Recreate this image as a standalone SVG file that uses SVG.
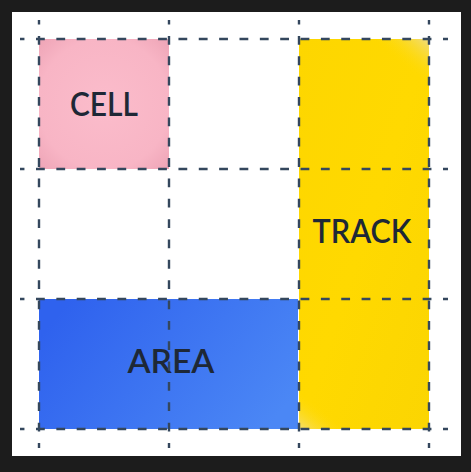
<svg xmlns="http://www.w3.org/2000/svg" width="471" height="472" viewBox="0 0 471 472">
  <style>
    .lbl { font-family: Lato, "Open Sans", "Liberation Sans", sans-serif; font-size: 32px; font-weight: 600; fill: #1e2836; text-anchor: middle; }
    .grid line { stroke: #34475d; stroke-width: 2.4; stroke-dasharray: 8.8 11.55; stroke-dashoffset: 4.35; fill: none; }
  </style>
  <defs>
    <radialGradient id="gPink" cx="0.5" cy="0.5" r="0.72">
      <stop offset="0" stop-color="#fbbccb"/>
      <stop offset="0.7" stop-color="#f8b5c5"/>
      <stop offset="1" stop-color="#eda3b5"/>
    </radialGradient>
    <linearGradient id="gYellow" x1="0" y1="0" x2="1" y2="1">
      <stop offset="0" stop-color="#fdd600"/>
      <stop offset="0.5" stop-color="#ffd900"/>
      <stop offset="1" stop-color="#fbd502"/>
    </linearGradient>
    <linearGradient id="gYellowHi" gradientUnits="userSpaceOnUse" x1="429" y1="39" x2="405" y2="68">
      <stop offset="0" stop-color="#eedc8c" stop-opacity="0.95"/>
      <stop offset="1" stop-color="#ffd900" stop-opacity="0"/>
    </linearGradient>
    <linearGradient id="gYellowLo" gradientUnits="userSpaceOnUse" x1="299" y1="429" x2="318" y2="405">
      <stop offset="0" stop-color="#f2e08e" stop-opacity="0.8"/>
      <stop offset="1" stop-color="#ffd900" stop-opacity="0"/>
    </linearGradient>
    <linearGradient id="gBlue" x1="0" y1="0.3" x2="1" y2="0.7">
      <stop offset="0" stop-color="#2f62ee"/>
      <stop offset="1" stop-color="#4b87f5"/>
    </linearGradient>
  </defs>
  <rect x="0" y="0" width="471" height="472" fill="#1c1c1c"/>
  <rect x="12" y="12" width="449" height="444" fill="#ffffff"/>

  <g id="cell">
    <rect x="39" y="39" width="130" height="130" fill="url(#gPink)"/>
    <text class="lbl" x="104" y="116" textLength="68" lengthAdjust="spacingAndGlyphs">CELL</text>
  </g>
  <g id="track">
    <rect x="299" y="39" width="130" height="390" fill="url(#gYellow)"/>
    <rect x="299" y="39" width="130" height="390" fill="url(#gYellowHi)"/>
    <rect x="299" y="39" width="130" height="390" fill="url(#gYellowLo)"/>
    <text class="lbl" x="362" y="243" textLength="99" lengthAdjust="spacingAndGlyphs">TRACK</text>
  </g>
  <g id="area">
    <rect x="39" y="299" width="259" height="130" fill="url(#gBlue)"/>
    <text class="lbl" x="171" y="373" textLength="87" lengthAdjust="spacingAndGlyphs">AREA</text>
  </g>

  <g id="connectors" class="grid">
    <line x1="20" y1="39" x2="448" y2="39"/>
    <line x1="20" y1="169" x2="448" y2="169"/>
    <line x1="20" y1="299" x2="448" y2="299"/>
    <line x1="20" y1="429" x2="448" y2="429"/>
    <line x1="39" y1="20" x2="39" y2="448"/>
    <line x1="169" y1="20" x2="169" y2="448"/>
    <line x1="299" y1="20" x2="299" y2="448"/>
    <line x1="429" y1="20" x2="429" y2="448"/>
  </g>
</svg>
